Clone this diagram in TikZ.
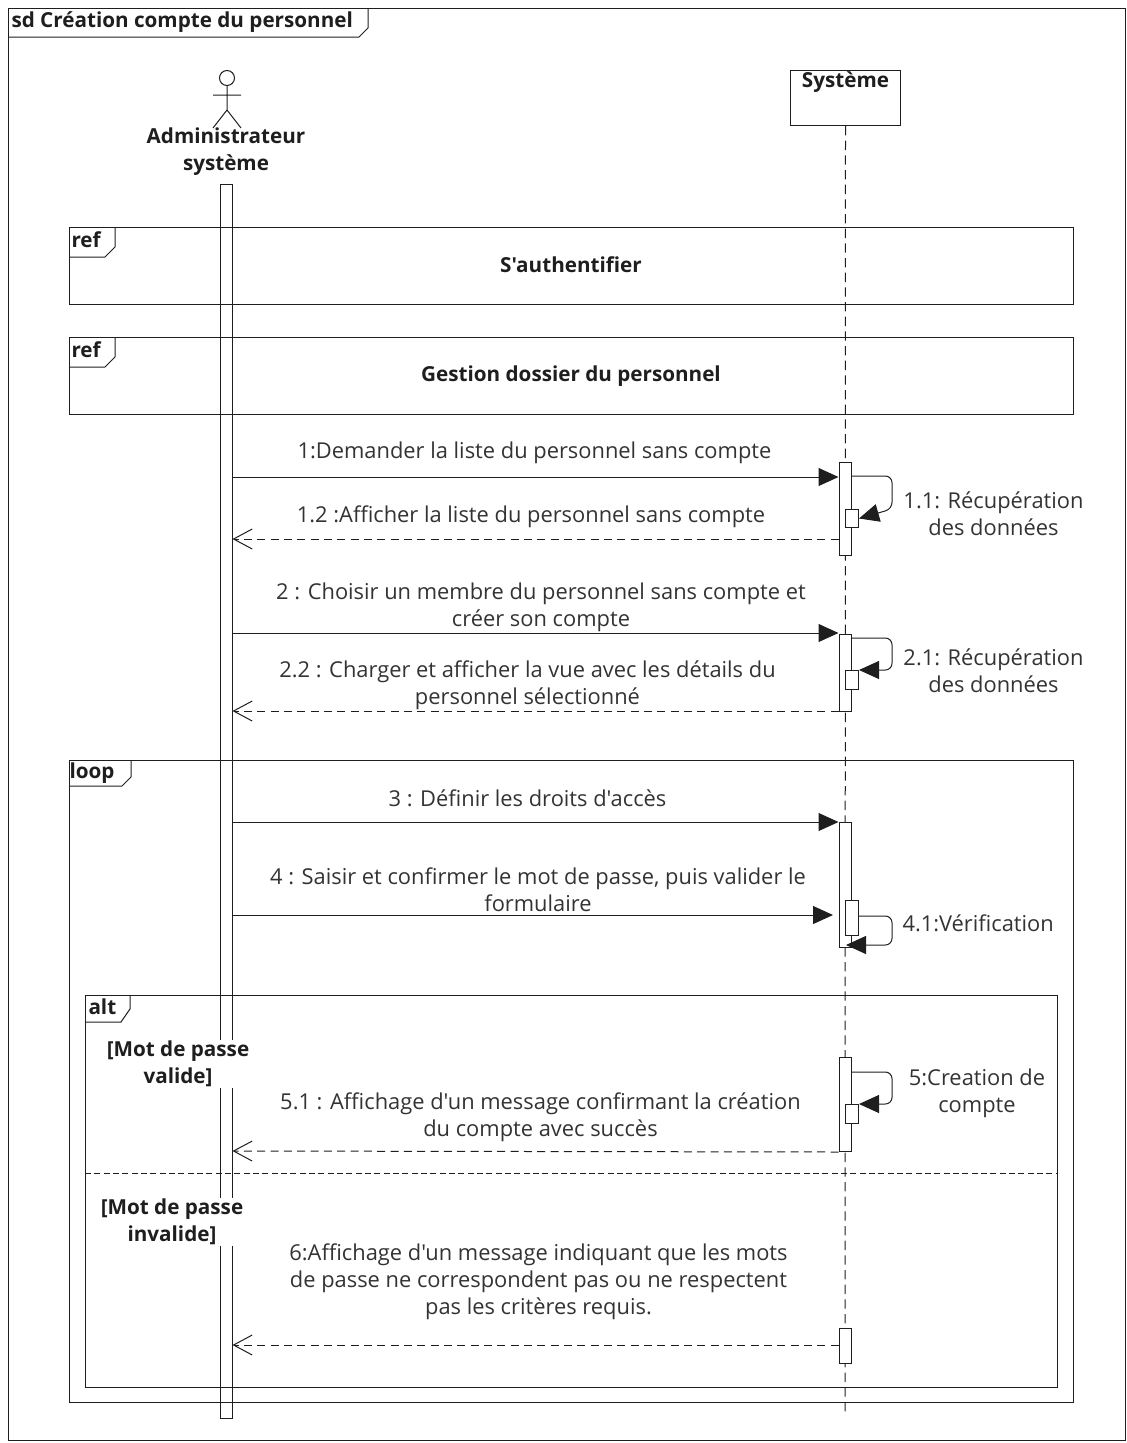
\documentclass[tikz,border=0pt]{standalone}
\usepackage{fontspec}
\setmainfont{Open Sans}[Ligatures=TeXOff]
\usetikzlibrary{arrows.meta,calc}
\definecolor{ink}{HTML}{1E1E1E}
\definecolor{msgtext}{HTML}{333333}
\begin{document}
\begin{tikzpicture}[x=0.75pt,y=-0.75pt,line width=0.75pt,
  msg/.style={draw=ink,-{Triangle[length=15pt,width=13.5pt]}},
  ret/.style={draw=ink,dash pattern=on 6pt off 4pt,-{Straight Barb[length=14pt,width=15pt]}},
  selfmsg/.style={draw=ink,rounded corners=5pt,-{Triangle[length=15pt,width=13.5pt]}},
  lifeline/.style={draw=ink,dash pattern=on 7pt off 4pt},
  frame/.style={draw=ink},
  act/.style={draw=ink,fill=white},
  lbl/.style={font=\fontsize{16.4}{20.25}\selectfont,text=msgtext,align=center,inner sep=0pt},
  hd/.style={font=\bfseries\fontsize{15.5}{20.25}\selectfont,text=ink,align=center,inner sep=0pt},
  guard/.style={hd,fill=white,inner sep=1pt},
]
\useasboundingbox (0,0) rectangle (1127,1443);

% outer sd frame
\draw[frame] (8,8) rectangle (1125,1440);
\draw[frame] (8,37) -- (359,37) -- (368,28) -- (368,8);
\node[hd,anchor=west] (title) at (11,22) {sd Création compte du personnel};

% actor
\draw[draw=ink] (227,78) circle (7.5);
\draw[draw=ink] (227,85.5) -- (227,110) (213,95) -- (241,95)
  (213,128) -- (227,110) -- (241,128);
\node[hd] (actor) at (226,151.5) {Administrateur\\système};
\node[draw=ink,minimum width=9pt,minimum height=925.5pt,inner sep=0pt,anchor=north] (adm) at (226,184) {};

% system lifeline
\node[draw=ink,fill=white,minimum width=82.5pt,minimum height=41.25pt,inner sep=0pt,anchor=north west] (sys) at (790,70) {};
\node[hd] (systxt) at (845.5,82) {Système};
\coordinate (sysend) at (845,1413);
\draw[lifeline] (sys.south) -- (sysend);

% ref frames
\draw[frame] (69,227) rectangle (1073,304);
\draw[frame] (69,257) -- (105,257) -- (115,247) -- (115,227);
\node[hd,anchor=west] (ref1) at (71,240) {ref};
\node[hd] (auth) at (571,265) {S'authentifier};

\draw[frame] (69,337) rectangle (1073,414);
\draw[frame] (69,367) -- (105,367) -- (115,357) -- (115,337);
\node[hd,anchor=west] (ref2) at (71,350) {ref};
\node[hd] (gest) at (571,376) {Gestion dossier du personnel};

% loop frame
\draw[frame] (69,760) rectangle (1073,1402);
\draw[frame] (69,786) -- (122,786) -- (131,777) -- (131,760);
\node[hd,anchor=west] (looptxt) at (69,773) {loop};

% alt frame
\draw[frame] (85,995) rectangle (1057,1387);
\draw[frame] (85,1022) -- (121,1022) -- (130,1009) -- (130,995);
\node[hd,anchor=west] (alttxt) at (88,1007) {alt};
\draw[frame,dash pattern=on 4.5pt off 2.5pt] (85,1173) -- (1057,1173);
\node[guard] (g1) at (178,1064) {[Mot de passe\\valide]};
\node[guard] (g2) at (172,1222) {[Mot de passe\\invalide]};

% activations on the system lifeline
\node[act,minimum width=9pt,minimum height=69.75pt,inner sep=0pt,anchor=north] (a1) at (845,462) {};
\node[act,minimum width=9.75pt,minimum height=13.5pt,inner sep=0pt,anchor=north west] (a11) at (845,509) {};
\node[act,minimum width=9pt,minimum height=57.75pt,inner sep=0pt,anchor=north] (a2) at (845,634) {};
\node[act,minimum width=9.75pt,minimum height=14.25pt,inner sep=0pt,anchor=north west] (a21) at (845,670) {};
\node[act,minimum width=9pt,minimum height=93.75pt,inner sep=0pt,anchor=north] (a3) at (845,822) {};
\node[act,minimum width=9.75pt,minimum height=26.25pt,inner sep=0pt,anchor=north west] (a41) at (845,900) {};
\node[act,minimum width=9pt,minimum height=70.5pt,inner sep=0pt,anchor=north] (a5) at (845,1057) {};
\node[act,minimum width=9.75pt,minimum height=14.25pt,inner sep=0pt,anchor=north west] (a51) at (845,1104) {};
\node[act,minimum width=9pt,minimum height=26.25pt,inner sep=0pt,anchor=north] (a6) at (845,1328) {};

% message 1 and its return
\draw[msg] (adm.east |- 0,477) -- (a1.west |- 0,477);
\node[lbl] (l1) at (534.5,453) {1:Demander la liste du personnel sans compte};
\draw[selfmsg] (a1.east |- 0,476) -- (892,476) -- (892,509) -- (a11.east);
\node[lbl] (l11) at (993.5,513.5) {1.1: Récupération\\des données};
\draw[ret] (a1.west |- 0,539) -- (adm.east |- 0,539);
\node[lbl] (l12) at (531,517) {1.2 :Afficher la liste du personnel sans compte};

% message 2 and its return
\draw[msg] (adm.east |- 0,633) -- (a2.west |- 0,633);
\node[lbl] (l2) at (541,607.5) {2 : Choisir un membre du personnel sans compte et\\créer son compte};
\draw[selfmsg] (a2.east |- 0,638) -- (892,638) -- (892,670) -- (a21.north east);
\node[lbl] (l21) at (993.5,670.5) {2.1: Récupération\\des données};
\draw[ret] (a2.west |- 0,711) -- (adm.east |- 0,711);
\node[lbl] (l22) at (527.5,685.5) {2.2 : Charger et afficher la vue avec les détails du\\personnel sélectionné};

% messages 3 and 4
\draw[msg] (adm.east |- 0,822) -- (a3.north west);
\node[lbl] (l3) at (527.5,798) {3 : Définir les droits d'accès};
\draw[msg] (adm.east |- 0,915) -- (833,915);
\node[lbl] (l4) at (538,890) {4 : Saisir et confirmer le mot de passe, puis valider le\\formulaire};
\draw[selfmsg] (a41.east |- 0,916) -- (892,916) -- (892,945) -- (846,945);
\node[lbl,anchor=west] (l41) at (902,923) {4.1:Vérification};

% valid branch
\draw[selfmsg] (a5.east |- 0,1072) -- (892,1072) -- (892,1104) -- (a51.north east);
\node[lbl] (l5) at (977,1093.5) {5:Creation de\\compte};
\draw[ret] (a5.south west) -- (adm.east |- 0,1151);
\node[lbl] (l51) at (540.5,1117) {5.1 : Affichage d'un message confirmant la création\\du compte avec succès};

% invalid branch
\draw[ret] (a6.west |- 0,1345) -- (adm.east |- 0,1345);
\node[lbl] (l6) at (538.5,1281.5) {6:Affichage d'un message indiquant que les mots\\de passe ne correspondent pas ou ne respectent\\pas les critères requis.};
\end{tikzpicture}
\end{document}
